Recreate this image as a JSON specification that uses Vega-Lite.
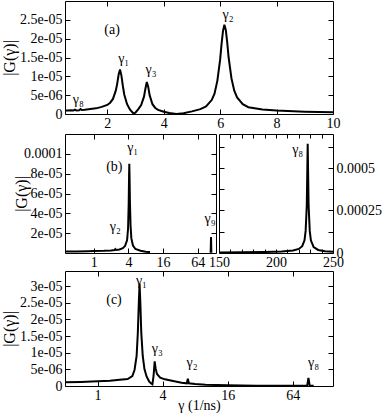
{
  "$schema": "https://vega.github.io/schema/vega-lite/v6.json",
  "padding": {"left": 0, "top": 0, "right": 0, "bottom": 0},
  "autosize": {"type": "pad"},
  "spacing": 2,
  "datasets": {
    "a_curve": [
      {"g": 0.5, "G": 0.9e-6}, {"g": 0.6, "G": 0.95e-6}, {"g": 0.7, "G": 1.0e-6}, {"g": 0.8, "G": 0.95e-6},
      {"g": 0.85, "G": 1.15e-6}, {"g": 0.9, "G": 0.95e-6}, {"g": 1.0, "G": 1.0e-6}, {"g": 1.05, "G": 1.3e-6},
      {"g": 1.1, "G": 1.05e-6}, {"g": 1.2, "G": 1.1e-6}, {"g": 1.4, "G": 1.3e-6}, {"g": 1.6, "G": 1.5e-6},
      {"g": 1.8, "G": 1.9e-6}, {"g": 2.0, "G": 2.4e-6}, {"g": 2.1, "G": 3.0e-6}, {"g": 2.2, "G": 4.0e-6},
      {"g": 2.3, "G": 6.2e-6}, {"g": 2.35, "G": 8.0e-6}, {"g": 2.4, "G": 10.4e-6}, {"g": 2.45, "G": 11.8e-6},
      {"g": 2.5, "G": 10.2e-6}, {"g": 2.55, "G": 7.5e-6}, {"g": 2.6, "G": 5.2e-6}, {"g": 2.7, "G": 2.6e-6},
      {"g": 2.8, "G": 1.2e-6}, {"g": 2.9, "G": 0.35e-6}, {"g": 2.95, "G": 0.1e-6}, {"g": 3.0, "G": 0.4e-6},
      {"g": 3.1, "G": 1.3e-6}, {"g": 3.2, "G": 2.4e-6}, {"g": 3.3, "G": 4.6e-6}, {"g": 3.35, "G": 6.7e-6},
      {"g": 3.4, "G": 8.5e-6}, {"g": 3.45, "G": 7.2e-6}, {"g": 3.5, "G": 5.0e-6}, {"g": 3.6, "G": 2.6e-6},
      {"g": 3.7, "G": 1.6e-6}, {"g": 3.8, "G": 1.1e-6}, {"g": 4.0, "G": 0.6e-6}, {"g": 4.2, "G": 0.25e-6},
      {"g": 4.45, "G": 0.02e-6}, {"g": 4.7, "G": 0.2e-6}, {"g": 5.0, "G": 0.7e-6}, {"g": 5.3, "G": 1.3e-6},
      {"g": 5.5, "G": 2.0e-6}, {"g": 5.7, "G": 3.7e-6}, {"g": 5.8, "G": 5.4e-6}, {"g": 5.9, "G": 8.8e-6},
      {"g": 6.0, "G": 14.5e-6}, {"g": 6.05, "G": 18.6e-6}, {"g": 6.1, "G": 22.0e-6}, {"g": 6.15, "G": 23.7e-6},
      {"g": 6.2, "G": 22.3e-6}, {"g": 6.25, "G": 19.0e-6}, {"g": 6.3, "G": 15.0e-6}, {"g": 6.4, "G": 9.5e-6},
      {"g": 6.5, "G": 6.2e-6}, {"g": 6.6, "G": 4.4e-6}, {"g": 6.8, "G": 2.6e-6}, {"g": 7.0, "G": 1.8e-6},
      {"g": 7.5, "G": 1.2e-6}, {"g": 8.0, "G": 0.9e-6}, {"g": 9.0, "G": 0.6e-6}, {"g": 10.0, "G": 0.45e-6}
    ],
    "a_labels": [
      {"g": 2.17, "G": 22.4e-6, "t": "(a)"},
      {"g": 2.58, "G": 14.6e-6, "t": "γ₁"},
      {"g": 3.55, "G": 11.7e-6, "t": "γ₃"},
      {"g": 6.28, "G": 26.3e-6, "t": "γ₂"},
      {"g": 0.97, "G": 3.8e-6, "t": "γ₈"}
    ],
    "bl_curve": [
      {"g": 0.317, "G": 1.5e-6, "s": 1}, {"g": 0.5, "G": 1.6e-6, "s": 1}, {"g": 0.8, "G": 1.8e-6, "s": 1},
      {"g": 1.0, "G": 1.9e-6, "s": 1}, {"g": 1.5, "G": 2.2e-6, "s": 1}, {"g": 2.0, "G": 2.6e-6, "s": 1},
      {"g": 2.3, "G": 3.0e-6, "s": 1}, {"g": 2.37, "G": 4.0e-6, "s": 1}, {"g": 2.45, "G": 3.0e-6, "s": 1},
      {"g": 2.8, "G": 3.5e-6, "s": 1}, {"g": 3.2, "G": 4.8e-6, "s": 1}, {"g": 3.5, "G": 7e-6, "s": 1},
      {"g": 3.8, "G": 13e-6, "s": 1}, {"g": 3.95, "G": 25e-6, "s": 1}, {"g": 4.05, "G": 50e-6, "s": 1},
      {"g": 4.11, "G": 78e-6, "s": 1}, {"g": 4.15, "G": 90e-6, "s": 1}, {"g": 4.19, "G": 78e-6, "s": 1},
      {"g": 4.26, "G": 50e-6, "s": 1}, {"g": 4.36, "G": 28e-6, "s": 1}, {"g": 4.5, "G": 15e-6, "s": 1},
      {"g": 4.8, "G": 7.5e-6, "s": 1}, {"g": 5.3, "G": 4e-6, "s": 1}, {"g": 6.5, "G": 2.2e-6, "s": 1},
      {"g": 8.0, "G": 1.3e-6, "s": 1}, {"g": 9.5, "G": 0.9e-6, "s": 1},
      {"g": 107.5, "G": 0.3e-6, "s": 2}, {"g": 109, "G": 16e-6, "s": 2}, {"g": 110.5, "G": 0.3e-6, "s": 2}
    ],
    "bl_labels": [
      {"g": 2.28, "G": 86.7e-6, "t": "(b)"},
      {"g": 4.75, "G": 105.6e-6, "t": "γ₁"},
      {"g": 2.37, "G": 26e-6, "t": "γ₂"},
      {"g": 105, "G": 34e-6, "t": "γ₉"}
    ],
    "br_curve": [
      {"g": 150, "G": 3e-6}, {"g": 170, "G": 4e-6}, {"g": 190, "G": 6e-6}, {"g": 205, "G": 9e-6},
      {"g": 215, "G": 15e-6}, {"g": 220, "G": 24e-6}, {"g": 223, "G": 40e-6}, {"g": 225, "G": 75e-6},
      {"g": 226, "G": 130e-6}, {"g": 227, "G": 280e-6}, {"g": 227.8, "G": 643e-6}, {"g": 228.6, "G": 280e-6},
      {"g": 229.6, "G": 130e-6}, {"g": 230.6, "G": 75e-6}, {"g": 233, "G": 35e-6}, {"g": 237, "G": 18e-6},
      {"g": 243, "G": 10e-6}, {"g": 250, "G": 7e-6}
    ],
    "br_labels": [
      {"g": 219, "G": 604e-6, "t": "γ₈"}
    ],
    "c_curve": [
      {"g": 0.5, "G": 1.1e-6}, {"g": 0.7, "G": 1.2e-6}, {"g": 1.0, "G": 1.4e-6}, {"g": 1.3, "G": 1.6e-6},
      {"g": 1.6, "G": 1.9e-6}, {"g": 1.9, "G": 2.1e-6}, {"g": 2.1, "G": 3.0e-6}, {"g": 2.2, "G": 4.8e-6},
      {"g": 2.3, "G": 9e-6}, {"g": 2.36, "G": 16e-6}, {"g": 2.41, "G": 25e-6}, {"g": 2.45, "G": 30.7e-6},
      {"g": 2.49, "G": 25e-6}, {"g": 2.54, "G": 16e-6}, {"g": 2.62, "G": 9e-6}, {"g": 2.72, "G": 5e-6},
      {"g": 2.85, "G": 2.8e-6}, {"g": 3.0, "G": 1.4e-6}, {"g": 3.12, "G": 0.8e-6}, {"g": 3.22, "G": 0.5e-6},
      {"g": 3.3, "G": 3e-6}, {"g": 3.38, "G": 7.4e-6}, {"g": 3.45, "G": 5.2e-6}, {"g": 3.55, "G": 3.6e-6},
      {"g": 3.8, "G": 2.5e-6}, {"g": 4.2, "G": 2.0e-6}, {"g": 5.0, "G": 1.5e-6}, {"g": 6.0, "G": 1.0e-6},
      {"g": 6.7, "G": 0.8e-6}, {"g": 6.85, "G": 2.2e-6}, {"g": 7.0, "G": 0.8e-6}, {"g": 8, "G": 0.6e-6},
      {"g": 10, "G": 0.4e-6}, {"g": 16, "G": 0.2e-6}, {"g": 30, "G": 0.1e-6}, {"g": 60, "G": 0.06e-6},
      {"g": 87, "G": 0.05e-6}, {"g": 89.5, "G": 2.4e-6}, {"g": 92, "G": 0.05e-6}, {"g": 100, "G": 0.05e-6}
    ],
    "c_labels": [
      {"g": 1.42, "G": 25.7e-6, "t": "(c)"},
      {"g": 2.55, "G": 31.6e-6, "t": "γ₁"},
      {"g": 3.58, "G": 11e-6, "t": "γ₃"},
      {"g": 7.5, "G": 7e-6, "t": "γ₂"},
      {"g": 99.6, "G": 7e-6, "t": "γ₈"}
    ]
  },
  "vconcat": [
    {
      "width": 268,
      "height": 113,
      "resolve": {"axis": {"x": "independent", "y": "independent"}},
      "layer": [
        {
          "data": {"name": "a_curve"},
          "mark": {"type": "line", "color": "black", "strokeWidth": 2, "clip": true},
          "encoding": {
            "x": {"field": "g", "type": "quantitative", "scale": {"domain": [0.5, 10], "nice": false, "zero": false},
                  "axis": {"orient": "bottom", "values": [2, 4, 6, 8, 10], "title": null}},
            "y": {"field": "G", "type": "quantitative", "scale": {"domain": [0, 3e-5], "nice": false},
                  "axis": {"orient": "left", "values": [0, 5e-6, 1e-5, 1.5e-5, 2e-5, 2.5e-5], "title": "|G(γ)|", "titleX": -48,
                           "labelExpr": "datum.value == 0 ? '0' : replace(format(datum.value, '~e'), 'e-', 'e-0')"}}
          }
        },
        {
          "data": {"name": "a_labels"},
          "mark": {"type": "text", "color": "black", "fontSize": 14, "baseline": "middle", "align": "center"},
          "encoding": {
            "x": {"field": "g", "type": "quantitative", "scale": {"domain": [0.5, 10], "nice": false, "zero": false},
                  "axis": {"orient": "top", "values": [2, 4, 6, 8], "labels": false, "title": null}},
            "y": {"field": "G", "type": "quantitative", "scale": {"domain": [0, 3e-5], "nice": false},
                  "axis": {"orient": "right", "values": [5e-6, 1e-5, 1.5e-5, 2e-5, 2.5e-5], "labels": false, "title": null}},
            "text": {"field": "t"}
          }
        }
      ]
    },
    {
      "spacing": 0,
      "vconcat": [
        {
          "bounds": "flush",
          "spacing": 3,
          "hconcat": [
            {
              "width": 151,
              "height": 119,
              "resolve": {"axis": {"x": "independent", "y": "independent"}},
              "layer": [
                {
                  "data": {"name": "bl_curve"},
                  "mark": {"type": "line", "color": "black", "strokeWidth": 2, "clip": true},
                  "encoding": {
                    "x": {"field": "g", "type": "quantitative", "scale": {"type": "log", "domain": [0.317, 133], "nice": false},
                          "axis": {"orient": "bottom", "values": [1, 4, 16, 64], "title": null, "format": "d"}},
                    "y": {"field": "G", "type": "quantitative", "scale": {"domain": [0, 1.2e-4], "nice": false},
                          "axis": {"orient": "left", "values": [2e-5, 4e-5, 6e-5, 8e-5, 1e-4], "title": "|G(γ)|", "titleX": -36,
                                   "labelExpr": "datum.value >= 0.0001 ? format(datum.value, '~g') : replace(format(datum.value, '~e'), 'e-', 'e-0')"}},
                    "detail": {"field": "s"}
                  }
                },
                {
                  "data": {"name": "bl_labels"},
                  "mark": {"type": "text", "color": "black", "fontSize": 14, "baseline": "middle", "align": "center"},
                  "encoding": {
                    "x": {"field": "g", "type": "quantitative", "scale": {"type": "log", "domain": [0.317, 133], "nice": false},
                          "axis": {"orient": "top", "values": [1, 4, 16, 64], "labels": false, "title": null}},
                    "y": {"field": "G", "type": "quantitative", "scale": {"domain": [0, 1.2e-4], "nice": false},
                          "axis": {"orient": "right", "values": [2e-5, 4e-5, 6e-5, 8e-5, 1e-4], "labels": false, "title": null}},
                    "text": {"field": "t"}
                  }
                }
              ]
            },
            {
              "width": 114,
              "height": 119,
              "resolve": {"axis": {"x": "independent", "y": "independent"}},
              "layer": [
                {
                  "data": {"name": "br_curve"},
                  "mark": {"type": "line", "color": "black", "strokeWidth": 2, "clip": true},
                  "encoding": {
                    "x": {"field": "g", "type": "quantitative", "scale": {"domain": [150, 250], "nice": false, "zero": false},
                          "axis": {"orient": "bottom", "values": [150, 160, 170, 180, 190, 200, 210, 220, 230, 240, 250], "title": null, "tickSize": -4,
                                   "labelPadding": 6, "labelExpr": "(datum.value == 150 || datum.value == 200 || datum.value == 250) ? format(datum.value, 'd') : ''"}},
                    "y": {"field": "G", "type": "quantitative", "scale": {"domain": [0, 7e-4], "nice": false},
                          "axis": {"orient": "right", "values": [0, 1.25e-4, 2.5e-4, 3.75e-4, 5e-4, 6.25e-4], "title": null, "labelPadding": 8,
                                   "labelExpr": "(datum.value == 0 || datum.value == 0.00025 || datum.value == 0.0005) ? format(datum.value, '~g') : ''"}}
                  }
                },
                {
                  "data": {"name": "br_labels"},
                  "mark": {"type": "text", "color": "black", "fontSize": 14, "baseline": "middle", "align": "center"},
                  "encoding": {
                    "x": {"field": "g", "type": "quantitative", "scale": {"domain": [150, 250], "nice": false, "zero": false},
                          "axis": {"orient": "top", "values": [160, 170, 180, 190, 200, 210, 220, 230, 240], "labels": false, "title": null, "tickSize": -4}},
                    "y": {"field": "G", "type": "quantitative", "scale": {"domain": [0, 7e-4], "nice": false},
                          "axis": {"orient": "left", "values": [1.25e-4, 2.5e-4, 3.75e-4, 5e-4, 6.25e-4], "labels": false, "title": null}},
                    "text": {"field": "t"}
                  }
                }
              ]
            }
          ]
        },
        {
          "width": 268,
          "height": 115,
          "resolve": {"axis": {"x": "independent", "y": "independent"}},
          "layer": [
            {
              "data": {"name": "c_curve"},
              "mark": {"type": "line", "color": "black", "strokeWidth": 2, "clip": true},
              "encoding": {
                "x": {"field": "g", "type": "quantitative", "scale": {"type": "log", "domain": [0.5, 151], "nice": false},
                      "axis": {"orient": "bottom", "values": [1, 4, 16, 64], "title": "γ (1/ns)", "format": "d", "titlePadding": -4, "titleFontSize": 14}},
                "y": {"field": "G", "type": "quantitative", "scale": {"domain": [0, 3.45e-5], "nice": false},
                      "axis": {"orient": "left", "values": [0, 5e-6, 1e-5, 1.5e-5, 2e-5, 2.5e-5, 3e-5], "title": "|G(γ)|", "titleX": -48,
                               "labelExpr": "datum.value == 0 ? '0' : replace(format(datum.value, '~e'), 'e-', 'e-0')"}}
              }
            },
            {
              "data": {"name": "c_labels"},
              "mark": {"type": "text", "color": "black", "fontSize": 14, "baseline": "middle", "align": "center"},
              "encoding": {
                "x": {"field": "g", "type": "quantitative", "scale": {"type": "log", "domain": [0.5, 151], "nice": false},
                      "axis": {"orient": "top", "values": [1, 4, 16, 64], "labels": false, "title": null}},
                "y": {"field": "G", "type": "quantitative", "scale": {"domain": [0, 3.45e-5], "nice": false},
                      "axis": {"orient": "right", "values": [5e-6, 1e-5, 1.5e-5, 2e-5, 2.5e-5, 3e-5], "labels": false, "title": null}},
                "text": {"field": "t"}
              }
            }
          ]
        }
      ]
    }
  ],
  "config": {
    "font": "Liberation Serif",
    "view": {"stroke": "black", "strokeWidth": 1},
    "axis": {
      "grid": false, "domain": false, "ticks": true, "tickColor": "black", "tickSize": -5, "tickWidth": 1,
      "labelFontSize": 14, "labelColor": "black", "labelFont": "Liberation Serif",
      "titleFontSize": 16, "titleColor": "black", "titleFont": "Liberation Serif", "titleFontWeight": "normal",
      "labelFlush": false, "labelOverlap": false
    },
    "axisX": {"labelPadding": 7},
    "axisY": {"labelPadding": 8},
    "text": {"font": "Liberation Serif"}
  }
}
